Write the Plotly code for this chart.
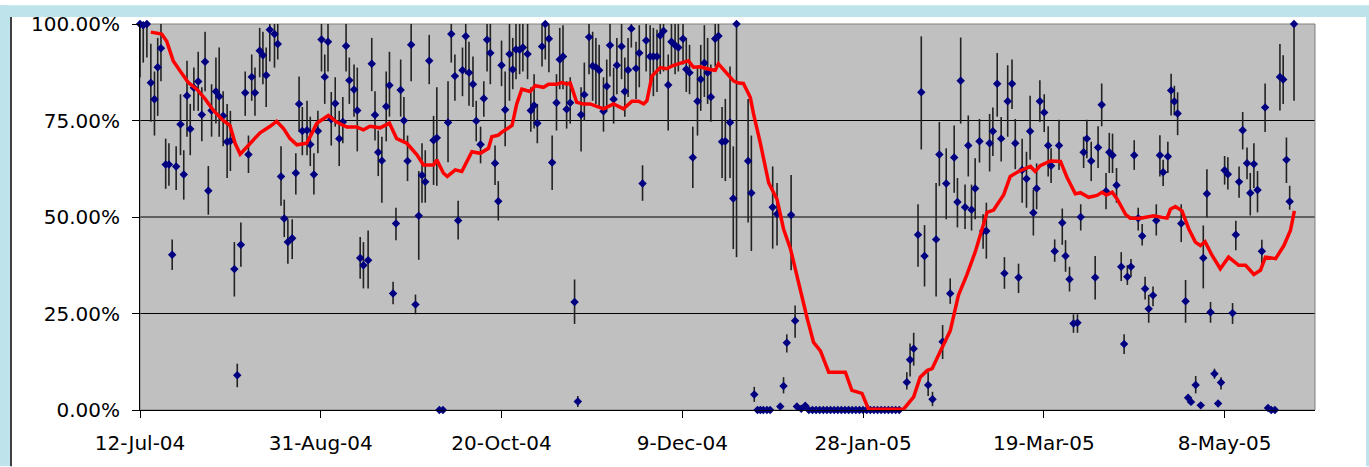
import pandas as pd
import numpy as np
import plotly.graph_objects as go

START = "2004-07-12"

# day offsets from 12-Jul-04 of each daily estimate
days = [
    0.0, 0.9, 1.9, 3.0, 4.0, 4.9, 5.8, 7.1, 8.0, 8.9,
    10.0, 11.2, 12.1, 13.0, 13.9, 14.9, 16.1, 17.1, 18.0, 18.9,
    19.8, 21.0, 21.9, 23.0, 24.1, 25.0, 26.1, 26.9, 27.9, 29.1,
    30.0, 30.9, 31.8, 33.1, 34.0, 34.9, 35.9, 37.2, 38.1, 39.0,
    39.9, 40.9, 42.1, 43.1, 44.0, 44.9, 46.2, 47.1, 48.1, 49.2,
    50.2, 51.1, 52.0, 52.9, 54.0, 55.1, 56.1, 57.0, 57.9, 59.2,
    60.1, 60.9, 61.8, 63.1, 64.1, 65.0, 65.9, 66.9, 68.1, 69.0,
    70.0, 70.8, 72.1, 73.0, 74.0, 75.0, 76.2, 77.1, 78.0, 78.9,
    80.0, 81.2, 82.1, 82.8, 83.8, 85.2, 86.1, 87.1, 88.0, 89.2,
    90.1, 91.0, 92.1, 93.0, 94.2, 95.1, 96.0, 96.9, 98.2, 99.1,
    100.0, 101.0, 102.2, 103.1, 104.0, 105.0, 105.9, 107.2, 108.1, 109.0,
    109.9, 111.2, 112.1, 113.1, 114.0, 115.2, 116.1, 117.0, 118.0, 119.0,
    120.2, 121.1, 122.0, 122.9, 124.2, 125.2, 126.1, 127.0, 128.2, 129.1,
    130.0, 131.0, 131.9, 133.2, 134.1, 135.0, 135.9, 137.2, 138.1, 139.0,
    140.0, 141.1, 142.0, 143.0, 143.9, 144.8, 146.1, 147.0, 148.0, 148.9,
    150.2, 151.1, 152.0, 152.9, 154.2, 155.1, 156.1, 157.0, 157.9, 159.1,
    160.0, 161.0, 161.9, 163.2, 164.1, 165.0, 168.2, 169.1, 169.9, 170.8,
    171.6, 172.4, 173.4, 174.3, 175.0, 176.2, 177.1, 178.0, 178.9, 180.1,
    181.2, 181.7, 182.9, 184.0, 185.0, 186.0, 187.0, 188.0, 189.0, 190.0,
    191.0, 192.0, 193.0, 194.0, 195.0, 196.0, 197.0, 198.0, 199.0, 200.0,
    201.0, 202.0, 203.0, 204.0, 205.0, 206.0, 207.0, 208.0, 209.0, 210.0,
    212.1, 213.0, 214.0, 215.2, 216.1, 217.0, 218.0, 219.2, 220.2, 221.1,
    222.0, 223.0, 224.1, 225.2, 226.1, 227.0, 228.2, 229.1, 230.0, 231.0,
    232.2, 233.2, 234.1, 235.0, 235.9, 237.1, 238.2, 239.1, 240.0, 241.2,
    242.1, 243.0, 244.0, 245.2, 246.2, 247.1, 248.0, 248.9, 250.1, 251.2,
    252.0, 253.0, 254.2, 255.1, 256.0, 257.1, 258.2, 259.3, 260.2, 261.0,
    261.9, 263.1, 264.2, 265.0, 266.0, 267.2, 268.1, 269.0, 270.1, 271.4,
    272.2, 273.1, 274.1, 275.0, 276.1, 277.2, 278.0, 279.0, 280.2, 281.1,
    282.1, 283.0, 284.3, 285.2, 286.1, 287.0, 288.0, 289.2, 289.9, 290.7,
    292.0, 293.4, 294.1, 295.1, 296.1, 297.2, 298.2, 299.0, 300.0, 300.9,
    302.2, 303.1, 304.0, 305.0, 306.2, 307.1, 308.1, 309.1, 310.3, 311.2,
    312.0, 312.9, 313.9, 315.3, 316.2, 317.1, 318.0, 319.2,
]

# daily estimate (%)
pct = [
    100, 99.7, 100, 84.8, 80.5, 88.8, 93.7, 63.6, 63.6, 40.2,
    63.1, 74.0, 61.0, 81.4, 72.8, 83.5, 85.1, 76.5, 90.2, 56.8,
    77.6, 82.5, 81.2, 76.2, 69.5, 69.7, 36.5, 9.0, 42.8, 82.2,
    66.2, 86.3, 82.2, 93.1, 91.9, 86.7, 98.5, 97.4, 94.8, 60.5,
    49.6, 43.5, 44.5, 61.4, 79.3, 72.3, 72.5, 68.8, 61.0, 72.3,
    96.0, 86.3, 95.4, 75.3, 79.4, 70.3, 74.6, 94.3, 85.4, 83.0,
    77.6, 39.4, 37.5, 38.8, 89.7, 76.4, 66.8, 64.6, 78.6, 84.1,
    30.2, 48.3, 82.9, 75.0, 64.5, 94.6, 27.3, 50.3, 60.8, 59.1,
    90.5, 69.9, 70.5, 0, 0, 74.5, 97.4, 86.5, 49.1, 88.0,
    96.8, 87.4, 84.4, 74.9, 68.8, 80.7, 95.9, 92.5, 63.9, 54.1,
    89.3, 77.8, 92.2, 88.2, 93.4, 93.3, 93.9, 92.2, 77.6, 78.9,
    74.3, 94.2, 100, 96.2, 64.1, 79.6, 90.8, 91.6, 77.9, 79.6,
    28.0, 2.2, 76.5, 81.7, 96.6, 89.1, 88.8, 88.0, 77.4, 83.9,
    94.5, 80.5, 89.3, 94.2, 82.5, 88.1, 98.8, 88.5, 92.5, 58.7,
    95.7, 91.6, 91.6, 91.6, 97.0, 98.2, 84.2, 95.4, 94.5, 93.9,
    96.2, 88.3, 87.4, 65.4, 80.0, 85.7, 89.9, 87.4, 81.1, 96.2,
    96.9, 69.5, 69.6, 74.5, 54.8, 100, 64.5, 56.2, 4.0, 0,
    0, 0, 0, 0, 52.5, 50.8, 0.9, 6.2, 17.4, 50.5,
    23.1, 0.9, 0.3, 1.1, 0, 0, 0, 0, 0, 0,
    0, 0, 0, 0, 0, 0, 0, 0, 0, 0,
    0, 0, 0, 0, 0, 0, 0, 0, 0, 0,
    7.2, 13.0, 15.9, 45.4, 82.3, 39.9, 6.5, 2.8, 44.2, 66.2,
    17.7, 58.7, 30.2, 65.4, 53.9, 85.3, 52.5, 68.5, 51.9, 57.4,
    69.6, 46.4, 46.4, 69.1, 72.2, 84.5, 70.3, 35.4, 80.0, 84.5,
    69.1, 34.3, 62.2, 59.9, 72.2, 51.1, 57.4, 80.0, 77.1, 68.5,
    63.3, 41.1, 68.5, 48.5, 39.9, 33.9, 22.4, 22.6, 50.0, 66.8,
    70.3, 64.5, 34.3, 68.0, 79.1, 56.7, 66.8, 66.0, 58.2, 37.1,
    17.1, 34.5, 37.1, 66.0, 49.7, 45.1, 31.4, 26.2, 29.7, 49.1,
    66.0, 61.6, 65.7, 82.8, 79.9, 76.8, 48.3, 28.2, 3.2, 2.1,
    6.5, 1.2, 39.4, 56.0, 25.3, 9.4, 1.7, 7.1, 62.1, 61.1,
    25.1, 45.4, 59.1, 72.5, 63.9, 56.2, 63.7, 57.0, 41.1, 78.4,
    0.5, 0, 0, 86.3, 85.6, 64.8, 54.0, 100,
]

# top of each vertical bar (%)
bar_hi = [
    100, 100, 100, 94.9, 87.7, 96.4, 100, 70.3, 69.1, 44.2,
    68.3, 81.8, 67.3, 90.5, 79.3, 88.7, 92.8, 83.6, 98.0, 63.2,
    84.4, 91.3, 93.9, 82.6, 79.3, 77.5, 43.5, 12.0, 48.6, 87.7,
    71.1, 92.1, 88.7, 99.0, 98.0, 93.9, 100, 100, 100, 68.3,
    54.5, 49.4, 49.4, 66.5, 86.4, 78.5, 80.1, 76.0, 66.5, 77.5,
    100, 92.1, 100, 82.4, 86.2, 77.5, 81.1, 100, 91.3, 89.5,
    88.7, 44.8, 43.5, 46.5, 96.4, 82.6, 72.4, 70.8, 87.7, 92.8,
    33.2, 52.4, 90.8, 81.1, 71.1, 100, 29.9, 61.9, 69.1, 67.3,
    97.2, 76.2, 83.6, 0, 0, 85.2, 100, 92.1, 54.2, 93.9,
    100, 95.4, 91.6, 80.1, 73.4, 85.2, 100, 100, 68.5, 59.3,
    95.7, 87.7, 100, 96.4, 100, 100, 100, 100, 83.6, 87.0,
    79.3, 100, 100, 100, 71.1, 87.0, 99.0, 99.7, 85.2, 86.2,
    33.8, 3.6, 83.6, 90.0, 100, 98.0, 96.4, 94.6, 86.2, 90.8,
    100, 88.7, 96.4, 100, 91.3, 96.4, 100, 95.4, 99.7, 63.4,
    100, 99.7, 99.0, 98.5, 100, 100, 92.1, 100, 100, 100,
    100, 96.4, 94.6, 73.4, 88.7, 94.6, 99.7, 96.4, 89.5, 100,
    100, 78.5, 80.6, 89.0, 68.3, 100, 80.6, 71.1, 6.0, 0,
    0, 0, 0, 0, 63.1, 58.8, 0.9, 8.5, 19.6, 60.9,
    27.1, 0.9, 0.3, 1.1, 0, 0, 0, 0, 0, 0,
    0, 0, 0, 0, 0, 0, 0, 0, 0, 0,
    0, 0, 0, 0, 0, 0, 0, 0, 0, 0,
    9.8, 17.2, 20.0, 53.3, 96.8, 47.9, 9.8, 4.7, 58.8, 74.6,
    22.0, 67.8, 34.1, 73.7, 60.1, 96.5, 58.4, 76.3, 58.4, 65.2,
    75.4, 50.7, 53.7, 76.7, 78.4, 92.5, 75.9, 39.6, 89.3, 90.8,
    75.4, 37.9, 70.3, 66.9, 81.4, 57.1, 63.9, 85.4, 81.8, 73.5,
    67.8, 44.2, 75.2, 52.2, 44.0, 37.1, 24.8, 24.8, 53.3, 70.8,
    75.2, 69.5, 39.9, 73.5, 84.6, 61.4, 71.8, 71.6, 62.7, 40.9,
    19.6, 37.5, 39.1, 69.9, 52.4, 48.2, 34.5, 29.8, 32.0, 53.3,
    71.2, 64.8, 69.5, 87.1, 84.0, 82.3, 53.3, 33.7, 3.2, 2.1,
    8.8, 1.2, 47.8, 62.4, 28.0, 10.7, 1.7, 8.5, 65.8, 65.5,
    27.7, 49.0, 63.1, 77.2, 68.0, 61.4, 69.1, 61.9, 44.1, 84.6,
    0.5, 0, 0, 94.8, 91.9, 70.6, 58.1, 100,
]

# bottom of each vertical bar (%)
bar_lo = [
    86.2, 90.0, 91.3, 74.7, 71.1, 76.2, 85.2, 57.3, 58.1, 36.3,
    57.0, 66.0, 54.5, 70.8, 66.0, 77.5, 77.5, 69.6, 82.6, 50.6,
    70.8, 74.2, 70.8, 68.3, 60.1, 61.9, 29.4, 5.9, 37.1, 76.2,
    61.4, 80.1, 76.2, 86.2, 84.4, 78.5, 90.3, 88.7, 90.8, 52.9,
    44.8, 37.9, 39.1, 55.8, 72.1, 66.0, 66.0, 63.2, 55.8, 66.5,
    87.7, 79.3, 87.7, 68.5, 73.4, 63.2, 69.1, 87.7, 79.3, 76.0,
    67.0, 34.0, 31.5, 31.5, 82.6, 69.8, 60.6, 53.7, 69.6, 76.0,
    27.4, 44.0, 76.0, 69.1, 59.3, 85.2, 24.8, 38.9, 53.7, 53.7,
    84.4, 58.3, 58.1, 0, 0, 64.2, 90.0, 80.1, 44.2, 81.3,
    87.0, 78.8, 78.5, 69.6, 63.9, 76.0, 87.7, 84.4, 58.3, 49.1,
    83.9, 68.3, 80.1, 83.1, 85.7, 87.0, 87.7, 85.7, 72.1, 72.9,
    69.1, 89.0, 90.8, 87.5, 57.0, 72.4, 83.1, 83.1, 72.9, 74.2,
    22.3, 0.8, 67.0, 74.9, 87.0, 80.1, 79.3, 78.5, 72.1, 77.5,
    86.4, 74.2, 81.8, 85.7, 76.0, 81.1, 93.9, 80.6, 83.6, 54.2,
    87.7, 83.1, 81.3, 82.4, 87.0, 87.7, 72.4, 89.0, 87.0, 87.7,
    89.5, 82.4, 81.8, 57.5, 71.1, 77.5, 81.1, 79.3, 74.7, 89.0,
    89.5, 60.1, 59.3, 60.1, 41.7, 39.6, 48.6, 41.2, 2.1, 0,
    0, 0, 0, 0, 41.8, 42.6, 0.9, 4.3, 14.9, 36.2,
    18.7, 0.9, 0.3, 1.1, 0, 0, 0, 0, 0, 0,
    0, 0, 0, 0, 0, 0, 0, 0, 0, 0,
    0, 0, 0, 0, 0, 0, 0, 0, 0, 0,
    5.3, 8.7, 11.5, 37.1, 67.5, 32.0, 3.6, 1.0, 29.4, 58.0,
    13.2, 49.4, 27.5, 56.3, 47.3, 74.2, 46.9, 60.5, 46.5, 49.4,
    64.1, 41.8, 39.2, 61.8, 65.8, 76.0, 64.4, 31.4, 70.8, 78.0,
    62.4, 30.3, 53.7, 52.4, 64.8, 45.2, 52.0, 74.6, 72.0, 60.5,
    58.8, 38.4, 62.2, 42.8, 35.8, 30.7, 20.0, 20.0, 46.5, 62.7,
    65.2, 59.3, 28.6, 62.7, 73.5, 52.0, 61.4, 61.4, 53.7, 33.4,
    14.5, 32.4, 34.5, 62.2, 46.5, 42.6, 28.6, 22.6, 26.9, 45.2,
    60.5, 58.0, 61.4, 76.3, 76.3, 71.2, 43.5, 22.6, 3.2, 2.1,
    4.3, 1.2, 31.5, 49.9, 22.6, 8.1, 1.7, 5.3, 58.4, 57.1,
    22.3, 41.4, 55.0, 67.5, 59.8, 50.4, 57.5, 51.2, 37.5, 72.0,
    0.5, 0, 0, 77.6, 79.3, 58.8, 51.9, 80.1,
]

# moving-average (red) line
ma_days = [
    3.0, 6.0, 7.4, 9.2, 11.1, 13.4, 15.7, 18.0, 20.3, 23.0, 24.9, 26.3, 27.7,
    29.5, 31.4, 33.2, 36.0, 37.8, 39.7, 41.5, 43.4, 46.1, 47.5, 48.9, 52.1,
    54.4, 57.2, 60.0, 61.8, 63.6, 66.4, 69.0, 71.0, 73.8, 76.6, 78.4, 81.2,
    82.1, 83.9, 85.0, 87.2, 89.0, 91.8, 94.1, 96.4, 97.3, 99.1, 100.1, 102.9,
    104.2, 105.6, 107.9, 109.3, 111.6, 113.0, 115.3, 116.7, 118.1, 119.0,
    120.8, 122.7, 124.5, 128.2, 131.0, 133.7, 136.1, 137.9, 139.3, 140.2,
    141.6, 143.9, 145.7, 147.6, 150.3, 151.7, 153.1, 154.9, 157.7, 159.1,
    160.0, 161.9, 164.2, 165.6, 166.9, 168.8, 169.7, 171.6, 173.9, 176.2,
    178.0, 179.9, 182.6, 184.5, 186.3, 188.2, 190.5, 195.1, 196.9, 199.7,
    201.5, 211.2, 214.0, 215.8, 217.7, 219.1, 221.4, 224.1, 226.4, 228.7,
    231.0, 234.3, 236.1, 238.9, 240.7, 243.0, 246.3, 247.6, 249.0, 251.8,
    254.6, 256.4, 258.7, 260.1, 262.4, 264.7, 266.1, 267.3, 268.9, 270.3,
    272.6, 273.9, 276.7, 280.4, 282.7, 284.1, 285.0, 286.4, 288.2, 290.1,
    291.9, 293.3, 294.6, 296.5, 298.8, 301.1, 303.9, 305.8, 308.1, 309.9,
    311.3, 314.1, 316.4, 318.2, 319.3,
]
ma_pct = [
    97.9, 97.4, 95.5, 90.4, 87.8, 84.8, 83.1, 80.6, 77.6, 75.0, 73.7, 69.1, 66.3,
    68.2, 69.9, 71.8, 73.5, 74.8, 72.9, 70.3, 68.7, 69.1, 71.6, 74.3, 76.3,
    74.6, 73.3, 73.3, 72.6, 73.5, 73.1, 74.3, 70.3, 69.1, 66.1, 63.5, 63.5,
    64.8, 61.4, 60.5, 62.2, 61.8, 66.9, 66.5, 67.8, 70.8, 71.2, 72.0, 73.7,
    79.3, 83.1, 82.5, 84.0, 83.6, 84.4, 84.4, 84.8, 84.4, 84.7,
    79.7, 79.3, 79.3, 78.0, 79.3, 78.0, 80.0, 80.0, 79.3, 80.1,
    86.5, 88.7, 88.4, 89.3, 90.2, 90.5, 88.8, 88.9, 88.2, 88.0,
    89.7, 87.8, 85.2, 84.7, 84.6, 81.0, 76.7, 69.1, 58.8, 54.6,
    46.9, 41.8, 30.7, 23.9, 17.5, 15.3, 9.8, 9.8, 5.1, 4.3,
    0.2, 0.2, 3.4, 8.5, 10.2, 10.7, 15.3, 20.5, 29.8, 35.0,
    40.9, 51.2, 51.8, 55.8, 60.5, 61.8, 63.1, 61.8, 63.3, 64.5,
    64.4, 60.3, 56.0, 56.3, 55.1, 55.6, 56.4, 55.7, 56.4, 54.6,
    50.7, 49.7, 49.7, 50.3, 49.9, 49.7, 52.0, 52.7, 51.6, 46.9,
    43.5, 42.6, 43.6, 40.1, 36.6, 39.6, 37.5, 37.5, 35.1, 36.2,
    39.6, 39.2, 42.6, 46.5, 51.6,
]

x_end_day = 325
tick_days = [0, 50, 100, 150, 200, 250, 300]
tick_labels = ["12-Jul-04", "31-Aug-04", "20-Oct-04", "9-Dec-04",
               "28-Jan-05", "19-Mar-05", "8-May-05"]
y_ticks = [0, 25, 50, 75, 100]
y_labels = ["0.00%", "25.00%", "50.00%", "75.00%", "100.00%"]
grid_levels = [25, 50, 75]

n = len(days)
if not (len(pct) == n and len(bar_hi) == n and len(bar_lo) == n):
    raise SystemExit(f"length mismatch {n} {len(pct)} {len(bar_hi)} {len(bar_lo)}")
if len(ma_days) != len(ma_pct):
    raise SystemExit(f"ma mismatch {len(ma_days)} {len(ma_pct)}")

start = pd.Timestamp(START)
x = start + pd.to_timedelta(np.array(days, dtype=float), unit="D")
xm = start + pd.to_timedelta(np.array(ma_days, dtype=float), unit="D")
p = np.array(pct, dtype=float)
err_up = np.maximum(np.array(bar_hi, dtype=float) - p, 0)
err_dn = np.maximum(p - np.array(bar_lo, dtype=float), 0)

W, H = 1369, 467
ML, MR, MT, MB = 140, 54, 19, 57
PW, PH = W - ML - MR, H - MT - MB


def px_x(px):
    return (px - ML) / PW


def px_y(py):
    return (H - MB - py) / PH


FONT = dict(family="DejaVu Sans", size=20, color="black")
LIGHT = "#BFE3EA"

fig = go.Figure()
fig.add_trace(go.Scatter(
    x=x, y=p, mode="markers",
    marker=dict(symbol="diamond", size=6.5, color="#000080"),
    error_y=dict(type="data", symmetric=False, array=err_up, arrayminus=err_dn,
                 color="#222222", thickness=1.6, width=0),
    cliponaxis=False, showlegend=False, hoverinfo="x+y",
))
fig.add_trace(go.Scatter(
    x=xm, y=ma_pct, mode="lines",
    line=dict(color="#FF0000", width=3.5),
    cliponaxis=False, showlegend=False,
))

shapes = []
for g in grid_levels:
    shapes.append(dict(type="line", xref="x domain", yref="y", x0=0, x1=1, y0=g, y1=g,
                       line=dict(color="black", width=1), layer="below"))
shapes.append(dict(type="rect", xref="x domain", yref="y domain", x0=0, x1=1, y0=0, y1=1,
                   line=dict(color="#808080", width=1), layer="below"))
# outer light-blue frame and black left rule
shapes.append(dict(type="rect", xref="paper", yref="paper",
                   x0=px_x(0), x1=px_x(W), y0=px_y(12), y1=px_y(0),
                   line=dict(width=0), fillcolor=LIGHT, layer="below"))
shapes.append(dict(type="rect", xref="paper", yref="paper",
                   x0=px_x(0), x1=px_x(10), y0=px_y(H), y1=px_y(0),
                   line=dict(width=0), fillcolor=LIGHT, layer="below"))
shapes.append(dict(type="rect", xref="paper", yref="paper",
                   x0=px_x(1366), x1=px_x(W), y0=px_y(H), y1=px_y(0),
                   line=dict(width=0), fillcolor=LIGHT, layer="below"))
shapes.append(dict(type="line", xref="paper", yref="paper",
                   x0=px_x(11), x1=px_x(11), y0=px_y(H), y1=px_y(12),
                   line=dict(color="black", width=1.5), layer="below"))

fig.update_layout(
    width=W, height=H,
    margin=dict(l=ML, r=MR, t=MT, b=MB, pad=0),
    paper_bgcolor="white", plot_bgcolor="#C0C0C0",
    font=FONT, showlegend=False, shapes=shapes,
    xaxis=dict(
        type="date",
        range=[start, start + pd.Timedelta(days=x_end_day)],
        tickvals=[start + pd.Timedelta(days=d) for d in tick_days],
        ticktext=tick_labels,
        ticks="outside", ticklen=7, tickcolor="black", tickwidth=1,
        showline=True, linecolor="black", linewidth=1,
        showgrid=False, zeroline=False, tickfont=FONT,
        ticklabelstandoff=8,
    ),
    yaxis=dict(
        range=[0, 100],
        tickvals=y_ticks, ticktext=y_labels,
        ticks="outside", ticklen=7, tickcolor="black", tickwidth=1,
        showline=True, linecolor="black", linewidth=1,
        showgrid=False, zeroline=False, tickfont=FONT,
        ticklabelstandoff=8,
    ),
)

fig.write_html("out.html", config={"displayModeBar": False},
               post_script="document.body.style.margin='0px';")
